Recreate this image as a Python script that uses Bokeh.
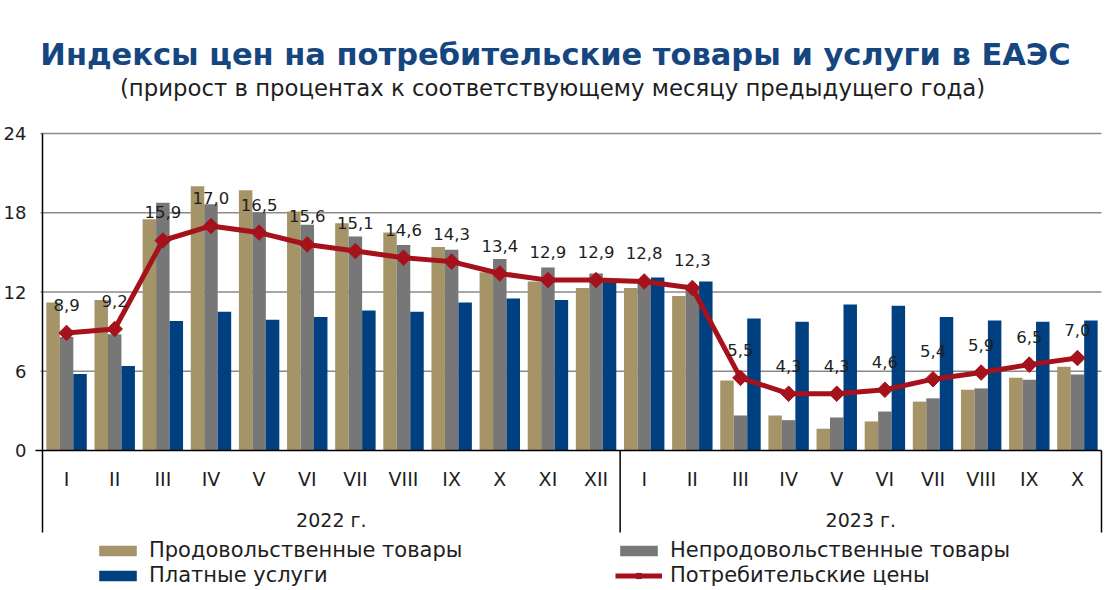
import math
from bokeh.plotting import figure
from bokeh.models import Range1d, Legend, LegendItem
from bokeh.core.properties import value
from bokeh.embed import file_html
from bokeh.resources import INLINE

# ---------------- data ----------------
months = ["I", "II", "III", "IV", "V", "VI", "VII", "VIII", "IX", "X", "XI", "XII",
          "I", "II", "III", "IV", "V", "VI", "VII", "VIII", "IX", "X"]
years = ["2022 г."] * 12 + ["2023 г."] * 10
food = [11.2, 11.4, 17.5, 20.0, 19.7, 18.1, 17.2, 16.5, 15.4, 13.5, 12.8, 12.3,
        12.3, 11.7, 5.3, 2.65, 1.65, 2.2, 3.7, 4.6, 5.5, 6.35]
nonfood = [8.6, 8.8, 18.75, 18.65, 18.0, 17.1, 16.2, 15.55, 15.2, 14.5, 13.85, 13.4,
           12.9, 12.2, 2.65, 2.3, 2.5, 2.95, 3.95, 4.7, 5.35, 5.75]
services = [5.8, 6.4, 9.8, 10.5, 9.9, 10.1, 10.6, 10.5, 11.2, 11.5, 11.4, 12.8,
            13.1, 12.8, 10.0, 9.75, 11.05, 10.95, 10.1, 9.85, 9.75, 9.85]
cpi = [8.9, 9.2, 15.9, 17.0, 16.5, 15.6, 15.1, 14.6, 14.3, 13.4, 12.9, 12.9,
       12.8, 12.3, 5.5, 4.3, 4.3, 4.6, 5.4, 5.9, 6.5, 7.0]
y_ticks = [0, 6, 12, 18, 24]
series_names = ["Продовольственные товары", "Непродовольственные товары",
                "Платные услуги", "Потребительские цены"]
title_text = "Индексы цен на потребительские товары и услуги в ЕАЭС"
subtitle_text = "(прирост в процентах к соответствующему месяцу предыдущего года)"

# ---------------- style / layout ----------------
C_FOOD = "#A49468"
C_NONFOOD = "#777777"
C_SERV = "#004080"
C_CPI = "#A6121C"
C_TITLE = "#16467F"
C_TEXT = "#1e1e1e"
FONT = "DejaVu Sans"

W, H = 1120, 590
X0_PX, X1_PX = 42, 1101     # category area in pixels
Y0_PX, Y24_PX = 450, 133     # value 0 and 24 in pixels
n = len(months)
idx = list(range(n))
PX_X = (X1_PX - X0_PX) / n
PX_Y = (Y0_PX - Y24_PX) / 24.0


def dx(px):
    return -0.5 + (px - X0_PX) / PX_X


def dy(py):
    return (Y0_PX - py) / PX_Y


p = figure(width=W, height=H, x_range=Range1d(dx(0), dx(W)),
           y_range=Range1d(dy(H), dy(0)),
           x_axis_location=None, y_axis_location=None,
           toolbar_location=None, output_backend="svg",
           min_border=0)
p.outline_line_color = None
p.grid.grid_line_color = None
p.background_fill_color = "white"
p.border_fill_color = "white"

# titles
p.text(x=[dx(555)], y=[dy(54)], text=[title_text], text_align="center",
       text_baseline="middle", text_font=value(FONT), text_font_style="bold",
       text_font_size="30.5px", text_color=C_TITLE)
p.text(x=[dx(552)], y=[dy(87)], text=[subtitle_text], text_align="center",
       text_baseline="middle", text_font=value(FONT), text_font_size="22.8px",
       text_color=C_TEXT)

# grid lines
gl = [t for t in y_ticks if t != 0]
p.segment(x0=[-0.5 - 2 / PX_X] * len(gl), y0=gl, x1=[n - 0.5] * len(gl), y1=gl,
          line_color="#8a8a8a", line_width=1.5)

# bars
bw = 0.28
r_food = p.vbar(x=[i - bw for i in idx], top=food, width=bw, bottom=0,
                fill_color=C_FOOD, line_color=None)
r_nonfood = p.vbar(x=idx, top=nonfood, width=bw, bottom=0,
                   fill_color=C_NONFOOD, line_color=None)
r_serv = p.vbar(x=[i + bw for i in idx], top=services, width=bw, bottom=0,
                fill_color=C_SERV, line_color=None)

# zero line
p.segment(x0=[-0.5 - 7 / PX_X], y0=[0], x1=[n - 0.5], y1=[0],
          line_color="black", line_width=1.5)

# category-axis separators (left axis line spans up to 24)
y_bottom = dy(532)
bounds = [-0.5] + [i + 0.5 for i in range(n - 1) if years[i] != years[i + 1]] + [n - 0.5]
p.segment(x0=bounds, y0=[y_bottom] * len(bounds), x1=bounds,
          y1=[24] + [0] * (len(bounds) - 1), line_color="black", line_width=1.5)

# y tick labels
p.text(x=[-0.5] * len(y_ticks), y=y_ticks, text=[str(t) for t in y_ticks],
       x_offset=-16, text_align="right", text_baseline="middle",
       text_font=value(FONT), text_font_size="18px", text_color=C_TEXT)

# month labels
p.text(x=idx, y=[dy(478)] * n, text=months, text_align="center",
       text_baseline="middle", text_font=value(FONT), text_font_size="19px",
       text_color=C_TEXT)

# year labels
year_names = []
for yname in years:
    if yname not in year_names:
        year_names.append(yname)
year_x = [sum(i for i in idx if years[i] == yn) / years.count(yn) for yn in year_names]
p.text(x=year_x, y=[dy(519)] * len(year_names), text=year_names,
       text_align="center", text_baseline="middle", text_font=value(FONT),
       text_font_size="19px", text_color=C_TEXT)

# CPI line
r_line = p.line(x=idx, y=cpi, line_color=C_CPI, line_width=5)
r_mark = p.scatter(x=idx, y=cpi, marker="square", angle=math.pi / 4, size=11,
                   fill_color=C_CPI, line_color=C_CPI)

# data labels
labels = [f"{v:.1f}".replace(".", ",") for v in cpi]
p.text(x=idx, y=cpi, text=labels, y_offset=-28, text_align="center",
       text_baseline="middle", text_font=value(FONT), text_font_size="16.5px",
       text_color=C_TEXT)

legend = Legend(items=[
    LegendItem(label=series_names[0], renderers=[r_food]),
    LegendItem(label=series_names[1], renderers=[r_nonfood]),
    LegendItem(label=series_names[2], renderers=[r_serv]),
    LegendItem(label=series_names[3], renderers=[r_line, r_mark]),
], location=(94, 3), orientation="horizontal", ncols=2,
    glyph_width=47, glyph_height=13, label_standoff=8, label_height=20,
    label_width=465, spacing=1, padding=0, margin=0,
    border_line_color=None, background_fill_alpha=0,
    label_text_font=FONT, label_text_font_size="21px", label_text_color=C_TEXT)
p.add_layout(legend)

open("out.html", "w").write(file_html(p, INLINE))
